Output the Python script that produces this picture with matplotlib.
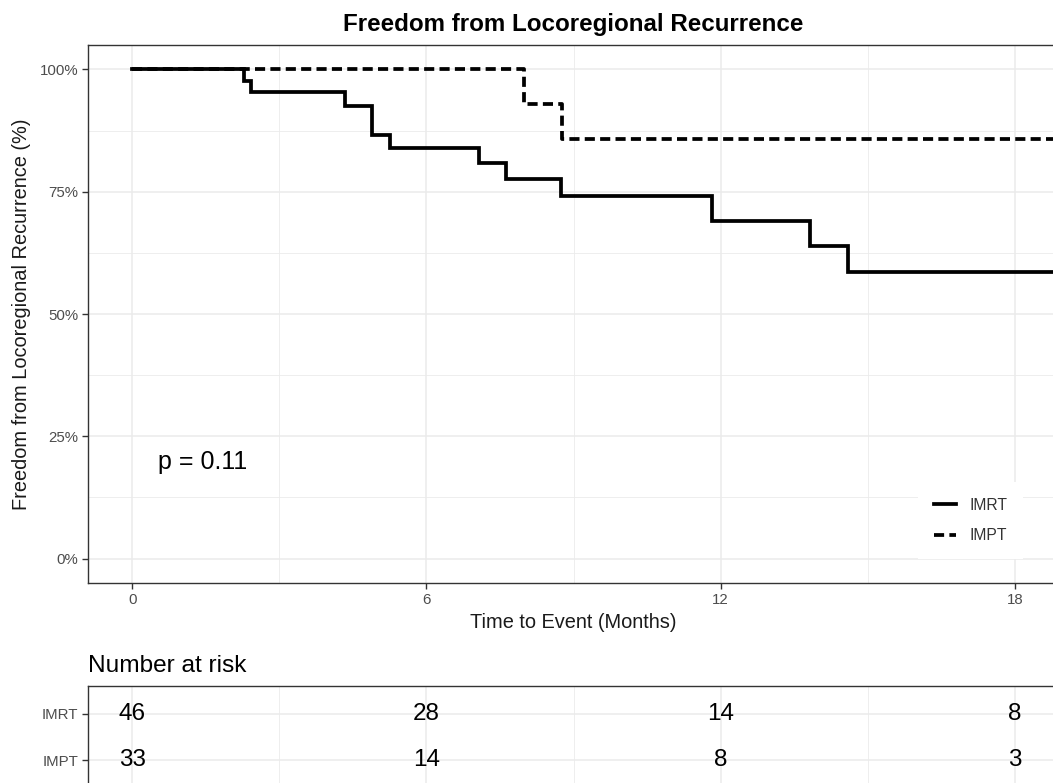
import matplotlib
matplotlib.use("Agg")
import matplotlib.pyplot as plt
from matplotlib.ticker import FixedLocator, FuncFormatter

plt.rcParams['font.family'] = ['Liberation Sans', 'DejaVu Sans']

# Kaplan-Meier estimates (months, survival fraction)
imrt_time = [0, 2.29, 2.42, 4.34, 4.89, 5.26, 7.08, 7.62, 8.74, 11.82, 13.82, 14.6, 20.0]
imrt_surv = [1.0, 0.976, 0.953, 0.925, 0.866, 0.839, 0.808, 0.777, 0.741, 0.690, 0.639, 0.586, 0.586]
impt_time = [0, 8.0, 8.77, 20.0]
impt_surv = [1.0, 0.929, 0.858, 0.858]

groups = ['IMRT', 'IMPT']
risk_times = [0, 6, 12, 18]
risk_imrt = [46, 28, 14, 8]
risk_impt = [33, 14, 8, 3]
p_text = 'p = 0.11'

W, H = 1053, 783
fig = plt.figure(figsize=(W / 100, H / 100), dpi=100)


def frame(x0, y0, x1, y1):
    return [x0 / W, 1 - y1 / H, (x1 - x0) / W, (y1 - y0) / H]


grid_col = '#EBEBEB'
border_col = '#333333'
tick_col = '#4D4D4D'


def style(a):
    a.set_facecolor('white')
    for s in a.spines.values():
        s.set_color(border_col)
        s.set_linewidth(1.0)
    a.spines['right'].set_visible(False)
    a.xaxis.set_major_locator(FixedLocator([0, 6, 12, 18]))
    a.xaxis.set_minor_locator(FixedLocator([3, 9, 15]))
    a.grid(which='major', color=grid_col, lw=1.1)
    a.grid(which='minor', color=grid_col, lw=0.6)
    a.set_axisbelow(True)
    a.tick_params(which='major', length=4, width=1.0, color=border_col,
                  labelsize=10.8, labelcolor=tick_col, pad=3)
    a.tick_params(which='minor', length=0)
    a.set_xlim(-0.9, 18.9)


# main survival panel
ax = fig.add_axes(frame(88, 45, 1059, 583))
style(ax)
ax.set_ylim(-0.05, 1.05)
ax.yaxis.set_major_locator(FixedLocator([0, 0.25, 0.5, 0.75, 1.0]))
ax.yaxis.set_minor_locator(FixedLocator([0.125, 0.375, 0.625, 0.875]))
ax.yaxis.set_major_formatter(FuncFormatter(lambda v, _: f'{v * 100:.0f}%'))

ax.step(imrt_time, imrt_surv, where='post', color='black', lw=2.7,
        solid_joinstyle='miter', label=groups[0])
ax.step(impt_time, impt_surv, where='post', color='black', lw=2.7,
        linestyle=(0, (2.7, 1.4)), label=groups[1])

ax.text(0.53, 0.198, p_text, fontsize=18, ha='left', va='center')

leg = ax.legend(loc='upper left', bbox_to_anchor=(910 / W, 1 - 474 / H),
                bbox_transform=fig.transFigure, fontsize=11.3, frameon=True,
                fancybox=False, edgecolor='none', facecolor='white', framealpha=1,
                handlelength=1.45, handletextpad=0.85, labelspacing=1.0, borderpad=1.0)
for t in leg.get_texts():
    t.set_color('#333333')

fig.text(573.5 / W, 1 - 30.5 / H, 'Freedom from Locoregional Recurrence',
         fontsize=17.4, fontweight='bold', ha='center', va='baseline')
fig.text(573.5 / W, 1 - 628 / H, 'Time to Event (Months)', fontsize=14.4,
         ha='center', va='baseline', color='#1A1A1A')
fig.text(22 / W, 1 - 314 / H, 'Freedom from Locoregional Recurrence (%)',
         fontsize=14.4, rotation=90, ha='center', va='center', color='#1A1A1A')

# number at risk table
tab = fig.add_axes(frame(88, 686, 1059, 788))
style(tab)
tab.set_ylim(0.4, 2.6)
tab.yaxis.set_major_locator(FixedLocator([2, 1]))
tab.yaxis.set_major_formatter(FuncFormatter(lambda v, _: groups[0] if v == 2 else groups[1]))
tab.tick_params(axis='x', labelbottom=False)
for t, n in zip(risk_times, risk_imrt):
    tab.text(t, 2, str(n), fontsize=17.5, ha='center', va='center')
for t, n in zip(risk_times, risk_impt):
    tab.text(t, 1, str(n), fontsize=17.5, ha='center', va='center')

fig.text(88 / W, 1 - 672 / H, 'Number at risk', fontsize=17.6, ha='left', va='baseline')

fig.savefig('out.png', dpi=100)
